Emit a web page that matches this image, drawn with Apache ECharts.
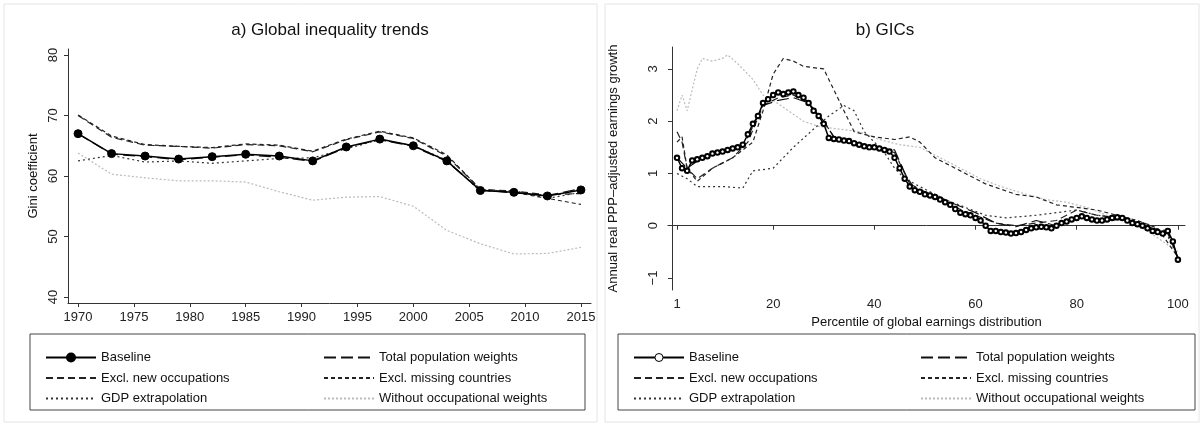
<!DOCTYPE html>
<html><head><meta charset="utf-8">
<script src="https://cdn.jsdelivr.net/npm/echarts@6/dist/echarts.min.js"></script>
<style>html,body{margin:0;padding:0;background:#fff}#c{width:1203px;height:428px}</style>
</head><body><div id="c"></div>
<script>
// panel a) Gini by year
var years = [1970,1973,1976,1979,1982,1985,1988,1991,1994,1997,2000,2003,2006,2009,2012,2015];
var giniBase   = [67,63.7,63.3,62.8,63.2,63.6,63.3,62.5,64.8,66.1,65,62.5,57.6,57.3,56.7,57.7];
var giniTotPop = [67,63.6,63.2,62.7,63.1,63.5,63.1,62.4,64.7,66,64.9,62.4,57.7,57.2,56.8,57.9];
var giniNewOcc = [70,66.4,65.1,64.9,64.6,65.2,65,64,66,67.3,66.2,63.3,57.8,57.5,56.9,57.1];
var giniMissC  = [70.1,66.6,65.2,64.9,64.7,65.3,65.1,64.1,66.1,67.4,66.3,63.5,57.8,57.3,56.3,55.3];
var giniGDP    = [62.5,63.4,62.3,62.5,62.1,62.5,62.9,63,64.5,66,65,62.6,57.5,57.6,56.3,57.3];
var giniNoOccW = [63.8,60.3,59.7,59.2,59.2,59,57.4,56,56.5,56.6,55,51,48.8,47.1,47.2,48.2];
var yearTicks = [1970,1975,1980,1985,1990,1995,2000,2005,2010,2015];
var giniTicks = [40,50,60,70,80];

// panel b) growth incidence curves [percentile, growth]
var gicBase = [[1,1.3],[2,1.1],[3,1.05],[4,1.25],[5,1.27],[6,1.3],[7,1.33],[8,1.38],[9,1.4],[10,1.42],[11,1.45],[12,1.48],[13,1.5],[14,1.55],[15,1.75],[16,1.95],[17,2.1],[18,2.35],[19,2.42],[20,2.5],[21,2.55],[22,2.52],[23,2.55],[24,2.57],[25,2.5],[26,2.45],[27,2.35],[28,2.2],[29,2.1],[30,1.95],[31,1.68],[32,1.66],[33,1.65],[34,1.63],[35,1.62],[36,1.58],[37,1.55],[38,1.52],[39,1.5],[40,1.5],[41,1.48],[42,1.45],[43,1.42],[44,1.3],[45,1.1],[46,0.9],[47,0.75],[48,0.68],[49,0.65],[50,0.6],[51,0.58],[52,0.55],[53,0.5],[54,0.45],[55,0.4],[56,0.32],[57,0.25],[58,0.22],[59,0.2],[60,0.15],[61,0.1],[62,0],[63,-0.1],[64,-0.1],[65,-0.12],[66,-0.13],[67,-0.15],[68,-0.14],[69,-0.12],[70,-0.08],[71,-0.05],[72,-0.03],[73,-0.02],[74,-0.03],[75,-0.05],[76,0],[77,0.05],[78,0.08],[79,0.12],[80,0.15],[81,0.18],[82,0.15],[83,0.12],[84,0.1],[85,0.1],[86,0.12],[87,0.15],[88,0.16],[89,0.15],[90,0.1],[91,0.05],[92,0.03],[93,0],[94,-0.05],[95,-0.1],[96,-0.12],[97,-0.15],[98,-0.1],[99,-0.3],[100,-0.65]];
var gicTotPop = [[1,1.3],[3,1.1],[6,1.3],[10,1.4],[14,1.5],[18,2.3],[21,2.4],[24,2.45],[27,2.35],[30,2.0],[32,1.7],[36,1.6],[40,1.5],[44,1.45],[47,0.8],[50,0.65],[55,0.45],[60,0.25],[64,0.05],[68,-0.02],[72,0.1],[76,0],[80,0.15],[85,0.1],[90,0.12],[95,-0.05],[98,-0.1],[100,-0.6]];
var gicNewOcc = [[1,1.8],[2,1.6],[3,1.1],[5,0.9],[8,1.1],[12,1.3],[15,1.6],[18,2.3],[21,2.45],[24,2.5],[27,2.35],[30,2.0],[32,1.7],[36,1.6],[40,1.5],[44,1.4],[46,1.0],[48,0.7],[52,0.55],[56,0.35],[60,0.2],[64,0.05],[68,0],[72,0.05],[76,0.1],[80,0.3],[84,0.2],[88,0.15],[92,0.05],[96,-0.1],[98,-0.15],[100,-0.6]];
var gicMissC = [[1,1.6],[2,1.7],[3,1.1],[5,0.85],[8,1.1],[12,1.3],[16,1.6],[18,2.2],[20,2.9],[22,3.2],[24,3.15],[26,3.05],[30,3.0],[33,2.4],[36,1.8],[40,1.7],[44,1.65],[47,1.7],[49,1.6],[52,1.3],[56,1.1],[58,1.0],[62,0.8],[68,0.6],[72,0.55],[76,0.4],[80,0.35],[84,0.3],[88,0.2],[92,0.1],[96,-0.05],[100,-0.6]];
var gicGDP = [[1,1.0],[3,0.9],[5,0.75],[10,0.75],[14,0.72],[16,1.05],[20,1.1],[24,1.5],[28,1.85],[31,2.1],[34,2.3],[36,2.2],[38,1.8],[42,1.4],[44,1.1],[46,0.9],[50,0.7],[54,0.5],[58,0.35],[62,0.2],[66,0.15],[72,0.2],[76,0.25],[80,0.3],[84,0.2],[90,0.15],[95,0],[98,-0.2],[100,-0.6]];
var gicNoOccW = [[1,2.2],[2,2.5],[3,2.2],[5,3.0],[6,3.2],[8,3.15],[10,3.2],[11,3.27],[13,3.1],[16,2.8],[18,2.5],[20,2.4],[23,2.2],[26,2.0],[29,1.9],[33,1.85],[37,1.8],[41,1.65],[45,1.55],[49,1.5],[53,1.3],[57,1.1],[61,0.9],[65,0.75],[70,0.6],[74,0.5],[78,0.45],[82,0.35],[86,0.2],[90,0.1],[94,-0.1],[97,-0.3],[100,-0.5]];
var pctTicks = [1,20,40,60,80,100];
var growthTicks = [-1,0,1,2,3];

var names = ['Baseline','Total population weights','Excl. new occupations','Excl. missing countries','GDP extrapolation','Without occupational weights'];
var styles = [
  {color:'#000', type:'solid', width:1.5},
  {color:'#111', type:[12,5], width:1.2},
  {color:'#222', type:[7,4], width:1.2},
  {color:'#222', type:[4,3], width:1.2},
  {color:'#333', type:[2,3], width:1.2},
  {color:'#bbb', type:[2,2], width:1.2}
];

var chart = echarts.init(document.getElementById('c'));
var font = 'Liberation Sans, Arial, sans-serif';
var lbl = {color:'#222', fontFamily:font, fontSize:13, formatter:function(v){return String(v).replace('-','\u2212');}};
var tick = {show:true, length:4, lineStyle:{color:'#333'}};
var nameStyle = {fontFamily:font, fontSize:13, color:'#111'};

function axis(d, ticks, extraLabel){
  return Object.assign({
    type:'value',
    axisLine:{show:true, lineStyle:{color:'#333'}},
    splitLine:{show:false},
    axisTick:Object.assign({customValues:ticks}, tick),
    axisLabel:Object.assign({customValues:ticks}, lbl, extraLabel || {})
  }, d);
}

function series(name, i, data, xi, circle){
  var st = styles[i];
  return {
    name:name, type:'line', xAxisIndex:xi, yAxisIndex:xi, data:data,
    showSymbol:i===0, symbol: i===0 ? (circle ? 'emptyCircle' : 'circle') : 'none',
    symbolSize: circle ? 4.5 : 8,
    itemStyle:{color:st.color, borderColor:st.color, borderWidth:1},
    lineStyle:st, z: 10 - i
  };
}

var legends = [];
[[40, 278, false], [628, 287, true]].forEach(function(p){
  names.forEach(function(n, i){
    var item = {
      data:[n], left:p[0] + (i % 2)*p[1], top:346 + Math.floor(i/2)*20.5,
      itemWidth:50, itemHeight:10, itemGap:4,
      textStyle:{fontFamily:font, fontSize:13, color:'#111'}
    };
    if (i > 0) item.itemStyle = {opacity:0};
    else if (p[2]) item.itemStyle = {color:'#fff', borderColor:'#000', borderWidth:1};
    legends.push(item);
  });
});

var ser = [];
[giniBase,giniTotPop,giniNewOcc,giniMissC,giniGDP,giniNoOccW].forEach(function(v,i){
  ser.push(series(names[i], i, years.map(function(y,k){return [y,v[k]];}), 0, false));
});
[gicBase,gicTotPop,gicNewOcc,gicMissC,gicGDP,gicNoOccW].forEach(function(v,i){
  ser.push(series(names[i], i, v, 1, true));
});

option = {
  backgroundColor:'#fff',
  animation:false,
  title:[
    {text:'a) Global inequality trends', left:325, top:17, textAlign:'center', textStyle:{fontFamily:font, fontSize:17, fontWeight:'normal', color:'#111'}},
    {text:'b) GICs', left:880, top:17, textAlign:'center', textStyle:{fontFamily:font, fontSize:17, fontWeight:'normal', color:'#111'}}
  ],
  graphic:[
    {type:'rect', shape:{x:4,y:4,width:593,height:418}, style:{fill:'none', stroke:'#e4e4e4'}},
    {type:'rect', shape:{x:605,y:4,width:594,height:418}, style:{fill:'none', stroke:'#e4e4e4'}},
    {type:'rect', shape:{x:30,y:334,width:555,height:76}, style:{fill:'none', stroke:'#444'}},
    {type:'rect', shape:{x:618,y:334,width:577,height:76}, style:{fill:'none', stroke:'#444'}}
  ],
  legend:legends,
  grid:[
    {left:68, top:49, width:523, height:254},
    {left:668, top:47, width:517, height:243}
  ],
  xAxis:[
    axis({gridIndex:0, min:1969.1, max:2015.9}, yearTicks),
    axis({gridIndex:1, min:-0.78, max:101.4,
      name:'Percentile of global earnings distribution', nameLocation:'middle', nameGap:22,
      nameTextStyle:nameStyle}, pctTicks)
  ],
  yAxis:[
    axis({gridIndex:0, min:39, max:81,
      name:'Gini coefficient', nameLocation:'middle', nameGap:28, nameTextStyle:nameStyle},
      giniTicks, {rotate:90}),
    axis({gridIndex:1, min:-1.23, max:3.42,
      name:'Annual real PPP\u2013adjusted earnings growth', nameLocation:'middle', nameGap:48,
      nameTextStyle:nameStyle},
      growthTicks, {rotate:90})
  ],
  series:ser
};
chart.setOption(option);
</script></body></html>
